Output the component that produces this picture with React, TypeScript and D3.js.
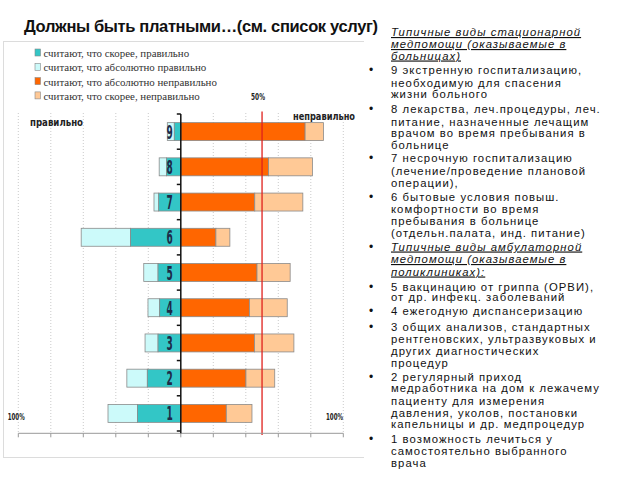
import React from "react";
import * as d3 from "d3";

const categories = ["9", "8", "7", "6", "5", "4", "3", "2", "1"];
const probablyRight = [4, 8.8, 13.6, 30.9, 14, 13, 14, 20.6, 26.7];
const absolutelyRight = [4.3, 4.5, 2.9, 30.4, 8.8, 7.2, 8, 12.6, 18.1];
const absolutelyWrong = [76.5, 54, 45.5, 21.6, 46.9, 42.2, 45.3, 40.1, 28];
const probablyWrong = [11.3, 27, 29.6, 8.6, 20.4, 23.3, 24.3, 17.7, 15.8];
const xTicks = [-100, -80, -60, -40, -20, 0, 20, 40, 60, 80, 100];
const threshold = 50;

const legendItems = [
  { label: "считают, что скорее, правильно", color: "#33c6c6" },
  { label: "считают, что абсолютно правильно", color: "#ccfafa" },
  { label: "считают, что абсолютно неправильно", color: "#ff6600" },
  { label: "считают, что скорее, неправильно", color: "#ffc996" },
];

const titleText = "Должны быть платными…(см. список услуг)";

const sideLines: { t: string; bullet?: boolean; head?: boolean; y: number }[] = [
  { t: "Типичные виды стационарной", head: true, y: 36 },
  { t: "медпомощи (оказываемые в", head: true, y: 48 },
  { t: "больницах)", head: true, y: 59.5 },
  { t: "9  экстренную госпитализацию,", bullet: true, y: 74 },
  { t: "необходимую для спасения", y: 86.5 },
  { t: "жизни больного", y: 98 },
  { t: "8  лекарства, леч.процедуры, леч.", bullet: true, y: 113 },
  { t: "питание, назначенные лечащим", y: 125.5 },
  { t: "врачом во время пребывания в", y: 137 },
  { t: "больнице", y: 149 },
  { t: "7  несрочную госпитализацию", bullet: true, y: 162 },
  { t: "(лечение/проведение плановой", y: 174.5 },
  { t: "операции),", y: 186.5 },
  { t: "6  бытовые условия повыш.", bullet: true, y: 200.5 },
  { t: "комфортности во время", y: 213 },
  { t: "пребывания в больнице", y: 225 },
  { t: "(отдельн.палата, инд. питание)", y: 236.5 },
  { t: "Типичные виды амбулаторной", head: true, bullet: true, y: 250.5 },
  { t: "медпомощи (оказываемые в", head: true, y: 263 },
  { t: "поликлиниках):", head: true, y: 275.5 },
  { t: "5  вакцинацию от гриппа (ОРВИ),", bullet: true, y: 290.5 },
  { t: "от др. инфекц. заболеваний", y: 301 },
  { t: "4  ежегодную диспансеризацию", bullet: true, y: 315 },
  { t: "3  общих анализов, стандартных", bullet: true, y: 331 },
  { t: "рентгеновских, ультразвуковых и", y: 343 },
  { t: "других диагностических", y: 354.5 },
  { t: "процедур", y: 366.5 },
  { t: "2  регулярный приход", bullet: true, y: 380.5 },
  { t: "медработника на дом к лежачему", y: 392 },
  { t: "пациенту для измерения", y: 404.5 },
  { t: "давления, уколов, постановки", y: 416.5 },
  { t: "капельницы и др. медпроцедур", y: 428 },
  { t: "1  возможность лечиться у", bullet: true, y: 443 },
  { t: "самостоятельно выбранного", y: 454.5 },
  { t: "врача", y: 466.5 },
];

export default function App() {
  const x = d3.scaleLinear().domain([-100, 100]).range([18.3, 343.3]);
  const y = d3.scaleBand().domain(categories).range([114, 431]).paddingInner(0.49).paddingOuter(0.245);
  const step = y.step();
  const bw = y.bandwidth();
  const boundaries = d3.range(categories.length + 1).map((i) => 114 + i * step);
  const axisY = 433.3;
  const cond = "'DejaVu Sans Condensed', 'DejaVu Sans', sans-serif";
  const sans = "'Liberation Sans', Arial, sans-serif";

  return (
    <svg width={640} height={480} style={{ position: "absolute", left: 0, top: 0, background: "#fff" }}>
      <rect x={0} y={0} width={640} height={480} fill="#fff" />
      {/* frame */}
      <rect x={3.5} y={41.5} width={420} height={416} fill="none" stroke="#dcdcdc" strokeWidth={1} />
      {/* legend */}
      {legendItems.map((d, i) => (
        <g key={d.label}>
          <rect x={35} y={49 + i * 14.3} width={5.5} height={7} fill={d.color} stroke="#888" strokeWidth={0.6} />
          <text x={43.5} y={57 + i * 14.3} fontFamily="'Liberation Serif', 'Times New Roman', serif" fontSize={10.9} fill="#333">
            {d.label}
          </text>
        </g>
      ))}
      <text x={251} y={99.5} fontFamily={cond} fontWeight="bold" fontSize={9} fill="#222" textLength={14} lengthAdjust="spacingAndGlyphs">50%</text>
      {/* grid */}
      {xTicks.filter((t) => t !== 0).map((t) => (
        <line key={"g" + t} x1={x(t)} x2={x(t)} y1={113} y2={axisY} stroke="#bdbdbd" strokeWidth={0.8} strokeDasharray="1,2" />
      ))}
      {/* side labels */}
      <text x={30} y={126} fontFamily={cond} fontWeight="bold" fontSize={11} fill="#222" textLength={53} lengthAdjust="spacingAndGlyphs">правильно</text>
      <text x={293} y={120} fontFamily={cond} fontWeight="bold" fontSize={11} fill="#222" textLength={62} lengthAdjust="spacingAndGlyphs">неправильно</text>
      <text x={7.7} y={419.5} fontFamily={cond} fontWeight="bold" fontSize={8.5} fill="#222" textLength={17} lengthAdjust="spacingAndGlyphs">100%</text>
      <text x={326} y={419.5} fontFamily={cond} fontWeight="bold" fontSize={8.5} fill="#222" textLength={17} lengthAdjust="spacingAndGlyphs">100%</text>
      {/* bars */}
      {categories.map((c, i) => {
        const y0 = y(c) as number;
        const pr = probablyRight[i];
        const ar = absolutelyRight[i];
        const aw = absolutelyWrong[i];
        const pw = probablyWrong[i];
        const segs = [
          { a: -(pr + ar), b: -pr, fill: "#ccfafa" },
          { a: -pr, b: 0, fill: "#33c6c6" },
          { a: 0, b: aw, fill: "#ff6600" },
          { a: aw, b: aw + pw, fill: "#ffc996" },
        ];
        return (
          <g key={c}>
            {segs.map((s, j) => (
              <rect key={j} x={x(s.a)} y={y0} width={x(s.b) - x(s.a)} height={bw} fill={s.fill} stroke="#8a8a8a" strokeWidth={0.8} />
            ))}
            <text
              transform={`translate(172.8,${y0 + bw / 2 + 7}) scale(0.5,1)`}
              textAnchor="end"
              fontFamily={cond}
              fontWeight="bold"
              fontSize={20}
              fill="#1d2b48"
            >
              {c}
            </text>
          </g>
        );
      })}
      {/* red 50% line */}
      <line x1={x(threshold)} x2={x(threshold)} y1={111.5} y2={435} stroke="#e0201c" strokeWidth={1.3} />
      {/* bottom axis */}
      <line x1={x(-100)} x2={x(100)} y1={axisY} y2={axisY} stroke="#999" strokeWidth={1} />
      {xTicks.map((t) => (
        <line key={"t" + t} x1={x(t)} x2={x(t)} y1={axisY} y2={axisY + 4} stroke="#999" strokeWidth={1} />
      ))}
      {/* center axis */}
      <line x1={x(0)} x2={x(0)} y1={114} y2={axisY} stroke="#111" strokeWidth={1.5} />
      {boundaries.map((b, i) => (
        <line key={"b" + i} x1={x(0) - 4} x2={x(0)} y1={b} y2={b} stroke="#111" strokeWidth={1.5} />
      ))}
      {/* right text panel */}
      <rect x={364} y={38} width={276} height={442} fill="#fff" />
      {/* title */}
      <text x={24} y={32} fontFamily={sans} fontWeight="bold" fontSize={16.5} fill="#111" textLength={354} lengthAdjust="spacing">
        {titleText}
      </text>
      {sideLines.map((l, i) => (
        <g key={i}>
          {l.bullet && (
            <text x={369} y={l.y} fontFamily={sans} fontSize={12} fill="#111">•</text>
          )}
          <text
            x={391}
            y={l.y}
            fontFamily={sans}
            fontSize={11.3}
            fill="#111"
            fontStyle={l.head ? "italic" : "normal"}
            textDecoration={l.head ? "underline" : "none"}
            letterSpacing={1.05}
          >
            {l.t}
          </text>
        </g>
      ))}
    </svg>
  );
}
